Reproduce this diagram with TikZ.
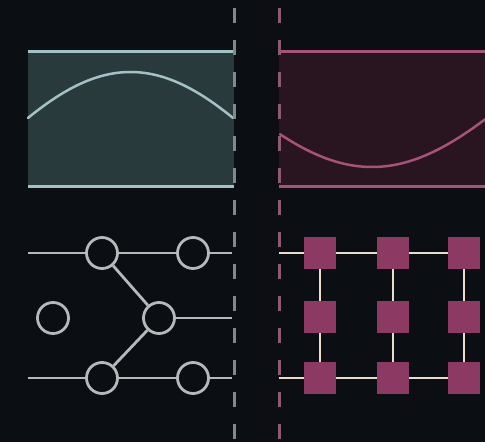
\documentclass[tikz,border=0pt]{standalone}
\begin{document}
\begin{tikzpicture}[x=1pt,y=-1pt,
  bgc/.style={fill=bgcol},
  divider/.style={line width=3pt, dash pattern=on 15pt off 17pt},
  panelline/.style={line width=3pt},
  wave/.style={line width=2.5pt, line cap=round},
  gnode/.style={circle, draw=graycol, line width=2.8pt, minimum size=31pt, inner sep=0pt, fill=bgcol},
  gline/.style={draw=graycol, line width=2.8pt},
  sq/.style={rectangle, fill=sqcol, minimum size=32pt, inner sep=0pt},
  cline/.style={draw=creamcol, line width=2.5pt}
]
\definecolor{bgcol}{HTML}{0B0F14}
\definecolor{tealfill}{HTML}{293A3D}
\definecolor{tealline}{HTML}{A3C2C6}
\definecolor{tealdash}{HTML}{7E8B8C}
\definecolor{redfill}{HTML}{29151F}
\definecolor{redline}{HTML}{A8527A}
\definecolor{reddash}{HTML}{8E5A72}
\definecolor{graycol}{HTML}{B4B9B9}
\definecolor{sqcol}{HTML}{8C3A63}
\definecolor{creamcol}{HTML}{EADDCB}

\useasboundingbox[fill=bgcol] (0,0) rectangle (485,442);

% top-left panel
\fill[tealfill] (28,51) rectangle (234,186);
\draw[tealline, wave] plot[domain=28:233, samples=80, smooth] (\x, {72+92*(1-cos(0.585*(\x-130.5)))});
\draw[tealline, panelline] (28,51) -- (234,51);
\draw[tealline, panelline] (28,186) -- (234,186);

% top-right panel
\fill[redfill] (279,51) rectangle (485,186);
\draw[redline, wave] plot[domain=280:485, samples=80, smooth] (\x, {167-80*(1-cos(0.585*(\x-372)))});
\draw[redline, panelline] (279,51) -- (485,51);
\draw[redline, panelline] (279,186) -- (485,186);

% dividers
\draw[tealdash, divider] (234,8) -- (234,442);
\draw[reddash, divider] (279,8) -- (279,442);

% bottom-left graph
\coordinate (la) at (28,253);
\coordinate (lb) at (28,378);
\coordinate (ra) at (232,253);
\coordinate (rm) at (232,318);
\coordinate (rb) at (232,378);
\node[gnode] (c1) at (102,253) {};
\node[gnode] (c2) at (193,253) {};
\node[gnode] (c3) at (159,318) {};
\node[gnode] (c4) at (102,378) {};
\node[gnode] (c5) at (193,378) {};
\node[gnode] (c6) at (53,318) {};
\draw[gline] (la) -- (c1) -- (c2) -- (ra);
\draw[gline] (lb) -- (c4) -- (c5) -- (rb);
\draw[gline] (c1) -- (c3) -- (c4);
\draw[gline] (c3) -- (rm);

% bottom-right grid
\coordinate (qa) at (279,253);
\coordinate (qb) at (279,378);
\node[sq] (s11) at (320,253) {};
\node[sq] (s12) at (393,253) {};
\node[sq] (s13) at (464,253) {};
\node[sq] (s21) at (320,317) {};
\node[sq] (s22) at (393,317) {};
\node[sq] (s23) at (464,317) {};
\node[sq] (s31) at (320,378) {};
\node[sq] (s32) at (393,378) {};
\node[sq] (s33) at (464,378) {};
\draw[cline] (qa) -- (s11) -- (s12) -- (s13);
\draw[cline] (qb) -- (s31) -- (s32) -- (s33);
\draw[cline] (s11) -- (s21) -- (s31);
\draw[cline] (s12) -- (s22) -- (s32);
\draw[cline] (s13) -- (s23) -- (s33);
\end{tikzpicture}
\end{document}
